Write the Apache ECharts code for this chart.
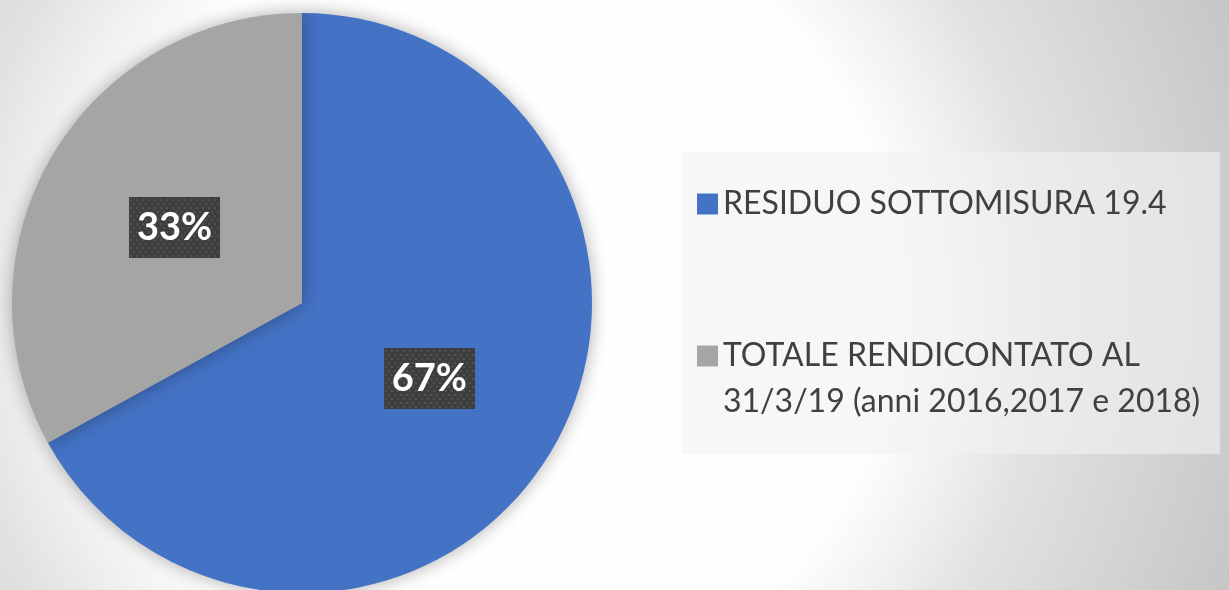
<!DOCTYPE html>
<html>
<head>
<meta charset="utf-8">
<script src="https://cdn.jsdelivr.net/npm/echarts@6/dist/echarts.min.js"></script>
<style>
  html, body { margin: 0; padding: 0; }
  #main { width: 1229px; height: 590px; }
</style>
</head>
<body>
<div id="main"></div>
<script>
// dati del grafico
var categories = ['RESIDUO SOTTOMISURA 19.4', 'TOTALE RENDICONTATO AL 31/3/19 (anni 2016,2017 e 2018)'];
var legendLabels = ['RESIDUO SOTTOMISURA 19.4', '\nTOTALE RENDICONTATO AL\n31/3/19 (anni 2016,2017 e 2018)'];
var values = [67, 33];
var colors = ['#4472C4', '#A5A5A5'];

// sfondo puntinato delle etichette
function dotPattern(w, h) {
  var c = document.createElement('canvas');
  c.width = w; c.height = h;
  var ctx = c.getContext('2d');
  ctx.fillStyle = '#3e3e3e';
  ctx.fillRect(0, 0, w, h);
  ctx.fillStyle = '#535353';
  for (var y = 2, row = 0; y < h; y += 4, row++) {
    for (var x = (row % 2 ? 4 : 1); x < w; x += 6) {
      ctx.fillRect(x, y, 2, 2);
    }
  }
  return c;
}

var myChart = echarts.init(document.getElementById('main'));

var option = {
  animation: false,
  backgroundColor: new echarts.graphic.RadialGradient(500, 300, 790, [
    { offset: 0, color: '#ffffff' },
    { offset: 0.5, color: '#fefefe' },
    { offset: 0.6, color: '#f0f0f0' },
    { offset: 0.69, color: '#e2e2e2' },
    { offset: 1, color: '#c5c5c5' }
  ], true),
  color: colors,
  legend: {
    orient: 'vertical',
    left: 682,
    top: 152,
    padding: [29, 20, 29, 15],
    backgroundColor: 'rgba(242,242,242,0.6)',
    itemWidth: 21,
    itemHeight: 21,
    itemGap: 60,
    icon: 'rect',
    selectedMode: false,
    formatter: function (name) {
      return legendLabels[categories.indexOf(name)];
    },
    textStyle: {
      fontFamily: 'Lato',
      fontSize: 32,
      lineHeight: 46,
      color: '#404040'
    },
    data: categories
  },
  series: [{
    type: 'pie',
    center: [302, 303],
    radius: 290,
    startAngle: 90,
    clockwise: true,
    percentPrecision: 0,
    emphasis: { disabled: true },
    itemStyle: {
      shadowBlur: 18,
      shadowColor: 'rgba(0,0,0,0.32)'
    },
    label: {
      position: 'inside',
      formatter: '{d}%',
      fontFamily: 'Lato',
      fontWeight: 'bold',
      fontSize: 38,
      color: '#ffffff',
      width: 91,
      height: 61,
      lineHeight: 61,
      align: 'center',
      backgroundColor: { image: dotPattern(91, 61) },
      shadowBlur: 6,
      shadowColor: 'rgba(0,0,0,0.45)',
      shadowOffsetX: 3,
      shadowOffsetY: 3
    },
    labelLine: { show: false },
    data: values.map(function (v, i) {
      return { name: categories[i], value: v };
    })
  }]
};

myChart.setOption(option);
</script>
</body>
</html>
